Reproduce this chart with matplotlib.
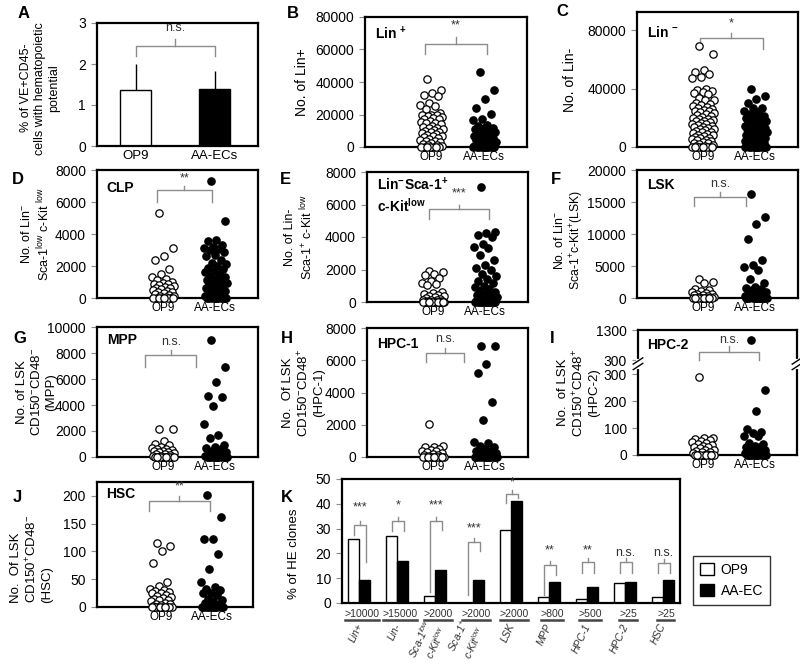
import numpy as np
import matplotlib
matplotlib.use('Agg')
import matplotlib.pyplot as plt
from matplotlib.patches import Patch

plt.rcParams['font.family'] = 'Liberation Sans'
plt.rcParams['mathtext.default'] = 'regular'

GRAY = '#8c8c8c'
DARK = '#333333'

groups = ['OP9', 'AA-ECs']

# A: % of VE+CD45- cells with hematopoietic potential
a_mean = [1.37, 1.39]
a_err = [0.63, 0.43]

# B: Lin+
b_op9 = [42000, 35000, 33500, 32000, 31500, 27000, 26000, 25000, 23500, 21000, 20000, 19500,
         19500, 19000, 18500, 18000, 17500, 17000, 16000, 15500, 15000, 14500, 14000, 13000,
         12500, 12000, 11500, 11000, 10500, 10000, 9500, 9000, 8500, 8000, 7500, 7000, 6500,
         6000, 5500, 5000, 4500, 4000, 3500, 3000, 2500, 2000, 1500, 1000, 500, 0, 0, 0, 0, 0, 0, 0]
b_aa = [46000, 35000, 29500, 24000, 20500, 17000, 16500, 13500, 13000, 12000, 11500, 11000,
        10500, 10000, 9500, 9000, 8500, 8000, 7500, 7000, 6500, 6000, 5500, 5000, 4500, 4000,
        3500, 3000, 2500, 2000, 1500, 1000, 800, 600, 400, 200, 0, 0, 0, 0, 0, 0, 0, 0]

# C: Lin-
c_op9 = [69000, 64000, 53000, 51500, 50000, 48000, 47000, 40000, 39000, 38500, 37500, 37000,
         36000, 33500, 32500, 32000, 30000, 29500, 29000, 28000, 27500, 27000, 26000, 25500,
         25000, 24500, 24000, 23000, 22500, 22000, 21000, 20500, 20000, 19500, 19000, 18500,
         18000, 17500, 17000, 16500, 16000, 15500, 15000, 14500, 14000, 13500, 13000, 12500,
         12000, 11500, 11000, 10500, 10000, 9500, 9000, 8500, 8000, 7500, 7000, 6500, 6000,
         5500, 5000, 4500, 4000, 3500, 3000, 2500, 2000, 1500, 1000, 500, 0, 0, 0, 0, 0, 0, 0, 0]
c_aa = [40000, 35000, 33000, 30000, 27000, 26500, 25000, 24000, 22500, 21500, 21000, 20000,
        19500, 19000, 18000, 17000, 16500, 16000, 15000, 14500, 14000, 13500, 13000, 12500,
        12000, 11500, 11000, 10500, 10000, 9500, 9000, 8500, 8000, 7500, 7000, 6500, 6000,
        5500, 5000, 4500, 4000, 3500, 3000, 2500, 2000, 1500, 1000, 500, 0, 0, 0, 0, 0, 0, 0, 0]

# D: CLP
d_op9 = [5300, 3100, 2600, 2400, 1800, 1500, 1300, 1200, 1100, 1000, 950, 900, 850, 800, 750,
         700, 650, 600, 550, 500, 450, 400, 350, 300, 250, 200, 150, 100, 50, 0, 0, 0, 0, 0, 0, 0, 0]
d_aa = [7300, 4800, 3650, 3550, 3300, 3200, 3150, 3050, 3000, 2900, 2700, 2600, 2400, 2200,
        2100, 2000, 1900, 1800, 1700, 1600, 1500, 1400, 1300, 1200, 1150, 1100, 1000, 950, 900,
        850, 800, 700, 650, 600, 500, 450, 400, 300, 250, 200, 150, 100, 50, 0, 0, 0, 0, 0, 0, 0, 0, 0]

# E: Lin-Sca-1+ c-Kit low
e_op9 = [1900, 1850, 1750, 1650, 1450, 1300, 1200, 1100, 1050, 600, 550, 500, 450, 400, 350,
         300, 250, 200, 150, 100, 100, 50, 50, 0, 0, 0, 0, 0, 0, 0, 0, 0, 0, 0, 0, 0]
e_aa = [7100, 4300, 4250, 4150, 4000, 3550, 3400, 3300, 2900, 2600, 2250, 2100, 2000, 1750,
        1600, 1400, 1300, 1200, 1000, 900, 800, 700, 600, 500, 450, 400, 350, 300, 250, 200,
        150, 100, 50, 0, 0, 0, 0, 0, 0, 0, 0, 0, 0]

# F: LSK
f_op9 = [2900, 2450, 2350, 1400, 1250, 1100, 900, 800, 700, 600, 500, 400, 300, 200, 100, 50,
         0, 0, 0, 0, 0, 0, 0, 0, 0, 0]
f_aa = [16200, 12700, 11600, 9200, 5900, 5100, 4800, 4300, 3000, 2400, 1700, 1500, 1400, 1200,
        1000, 800, 600, 500, 400, 300, 200, 150, 100, 50, 0, 0, 0, 0, 0, 0, 0, 0, 0, 0]

# G: MPP
g_op9 = [2150, 2150, 1200, 1000, 900, 800, 700, 650, 600, 550, 500, 450, 400, 350, 300, 250,
         200, 150, 100, 50, 0, 0, 0, 0, 0, 0, 0, 0, 0, 0]
g_aa = [9000, 6900, 5800, 4700, 4600, 3900, 2550, 1700, 1500, 900, 800, 700, 600, 500, 400,
        300, 250, 200, 150, 100, 50, 0, 0, 0, 0, 0, 0, 0, 0, 0]

# H: HPC-1
h_op9 = [2050, 700, 650, 600, 500, 450, 400, 350, 300, 250, 200, 150, 100, 50, 0, 0, 0, 0, 0,
         0, 0, 0, 0, 0]
h_aa = [6900, 6900, 5750, 5200, 3400, 2300, 900, 850, 700, 600, 500, 400, 350, 300, 250, 200,
        150, 100, 50, 0, 0, 0, 0, 0, 0, 0, 0, 0]

# I: HPC-2
i_op9 = [290, 65, 62, 58, 55, 52, 48, 45, 40, 38, 35, 30, 28, 25, 20, 18, 15, 12, 10, 8, 5,
         0, 0, 0, 0, 0, 0, 0, 0, 0, 0]
i_aa = [955, 240, 165, 95, 85, 80, 70, 70, 45, 40, 35, 30, 28, 25, 20, 18, 15, 12, 10, 8, 5,
        0, 0, 0, 0, 0, 0, 0, 0, 0, 0]

# J: HSC
j_op9 = [116, 110, 100, 80, 45, 38, 33, 30, 28, 27, 26, 25, 22, 20, 18, 16, 15, 13, 12, 10, 8,
         6, 5, 3, 2, 0, 0, 0, 0, 0, 0, 0, 0, 0]
j_aa = [202, 162, 122, 122, 95, 68, 45, 36, 33, 30, 25, 25, 22, 15, 12, 10, 8, 5, 3, 0, 0, 0,
        0, 0, 0, 0, 0, 0]

# K: % of HE clones
k_thresh = ['>10000', '>15000', '>2000', '>2000', '>2000', '>800', '>500', '>25', '>25']
k_cats = ['Lin+', 'Lin-', 'Sca-1$^{low}$\nc-Kit$^{low}$', 'Sca-1$^{+}$\nc-Kit$^{low}$',
          'LSK', 'MPP', 'HPC-1', 'HPC-2', 'HSC']
k_op9 = [25.8, 27.2, 2.8, 0, 29.5, 2.3, 1.6, 8.0, 2.3]
k_aa = [9.2, 17.0, 13.3, 9.2, 41.3, 8.4, 6.4, 8.4, 9.2]
k_sig = ['***', '*', '***', '***', '*', '**', '**', 'n.s.', 'n.s.']

fig = plt.figure(figsize=(8, 6.69), dpi=100)


def add_ax(l, t, r, b):
    return fig.add_axes([l / 800, 1 - b / 669, (r - l) / 800, (b - t) / 669])


def frame(ax):
    for s in ax.spines.values():
        s.set_linewidth(1.6)
        s.set_color('black')
    ax.tick_params(axis='y', length=4, width=0.8, color=GRAY, labelsize=10, pad=4)
    ax.tick_params(axis='x', length=0, labelsize=8.5, pad=3)


def bracket(ax, x0, x1, y, yl, yr, ytop, txt, ty, fs=9):
    ax.plot([x0, x0, x1, x1], [yl, y, y, yr], color=GRAY, lw=1, clip_on=False)
    xm = (x0 + x1) / 2
    ax.plot([xm, xm], [y, ytop], color=GRAY, lw=1, clip_on=False)
    ax.text(xm, ty, txt, ha='center', va='center', fontsize=fs, color=DARK)


def jitter(n, w):
    k = np.arange(n)
    return (((k + 0.5) * 0.618034) % 1.0 - 0.5) * 2 * w


def dots(ax, op9, aa, ylim, yticks, ylabel, lx, inner, iy, sig, lfs=9.5):
    for pos, vals, fc in [(1, op9, 'white'), (2, aa, 'black')]:
        v = np.sort(np.asarray(vals, float))[::-1]
        ax.scatter(pos + jitter(len(v), 0.22), v, s=28, facecolor=fc, edgecolor='black',
                   linewidth=0.9, zorder=3, clip_on=False)
    ax.set_xlim(-0.26, 2.815)
    ax.set_ylim(*ylim)
    ax.set_yticks(yticks)
    ax.set_xticks([1, 2])
    ax.set_xticklabels(groups)
    frame(ax)
    ax.set_ylabel(ylabel, fontsize=lfs)
    ax.yaxis.set_label_coords(lx, 0.5)
    ax.text(0.06, iy, inner, transform=ax.transAxes, fontsize=10, fontweight='bold',
            ha='left', va='center')
    bracket(ax, *sig)


# ---- A
ax = add_ax(97, 23, 258, 146)
ax.bar([0, 1], a_mean, width=0.4, color=['white', 'black'], edgecolor='black', lw=1, zorder=2)
ax.errorbar([0, 1], a_mean, yerr=[[0, 0], a_err], fmt='none', ecolor='black', elinewidth=1,
            capsize=0, zorder=1)
ax.set_xlim(-0.49, 1.55)
ax.set_ylim(0, 3)
ax.set_yticks([0, 1, 2, 3])
ax.set_xticks([0, 1])
ax.set_xticklabels(groups)
frame(ax)
ax.tick_params(axis='x', labelsize=9.5)
ax.set_ylabel('% of VE+CD45-\ncells with hematopoietic\npotential', fontsize=9)
ax.yaxis.set_label_coords(-0.23, 0.47)
bracket(ax, 0, 1, 2.43, 2.2, 2.2, 2.6, 'n.s.', 2.88)

# ---- B
ax = add_ax(365, 17, 527, 147)
dots(ax, b_op9, b_aa, (0, 80000), range(0, 80001, 20000), 'No. of Lin+', -0.345,
     'Lin $^{+}$', 0.87, (0.87, 2.05, 63600, 57000, 57000, 67400, '**', 74700), lfs=10)

# ---- C
ax = add_ax(637, 12, 798, 147)
dots(ax, c_op9, c_aa, (0, 92500), [0, 40000, 80000], 'No. of Lin-', -0.37,
     'Lin $^{-}$', 0.845, (0.94, 2.14, 74700, 67400, 67400, 78000, '*', 84500), lfs=10)

# ---- D
ax = add_ax(97, 170, 258, 298)
dots(ax, d_op9, d_aa, (0, 8000), range(0, 8001, 2000),
     'No. of Lin$^{-}$\nSca-1$^{low}$ c-Kit $^{low}$', -0.28,
     'CLP', 0.86, (0.89, 1.93, 6740, 6000, 6000, 7000, '**', 7470), lfs=9)

# ---- E
ax = add_ax(367, 172, 528, 302)
dots(ax, e_op9, e_aa, (0, 8000), range(0, 8001, 2000),
     'No. of Lin-\nSca-1$^{+}$ c-Kit $^{low}$', -0.32,
     'Lin$^{-}$Sca-1$^{+}$\nc-Kit$^{low}$', 0.82,
     (0.93, 2.07, 5700, 5100, 5100, 6000, '***', 6660), lfs=9)

# ---- F
ax = add_ax(637, 170, 798, 298)
dots(ax, f_op9, f_aa, (0, 20000), range(0, 20001, 5000),
     'No. of Lin$^{-}$\nSca-1$^{+}$c-Kit$^{+}$(LSK)', -0.315,
     'LSK', 0.88, (0.82, 1.83, 15840, 14370, 14370, 16580, 'n.s.', 17800), lfs=8.8)
ax.yaxis.set_label_coords(-0.315, 0.45)

# ---- G
ax = add_ax(97, 327, 258, 457)
dots(ax, g_op9, g_aa, (0, 10000), range(0, 10001, 2000),
     'No. of LSK\nCD150$^{-}$CD48$^{-}$\n(MPP)', -0.25,
     'MPP', 0.9, (0.66, 1.64, 7825, 6950, 6950, 8200, 'n.s.', 8875))

# ---- H
ax = add_ax(367, 328, 528, 457)
dots(ax, h_op9, h_aa, (0, 8000), range(0, 8001, 2000),
     'No.  Of LSK\nCD150$^{-}$CD48$^{+}$\n(HPC-1)', -0.26,
     'HPC-1', 0.876, (0.86, 1.59, 6450, 5880, 5880, 6760, 'n.s.', 7320))


# ---- I (broken axis)
def brk_fwd(y):
    y = np.asarray(y, float)
    return np.where(y <= 300, y, 352.5 + (y - 300) * 0.1125)


def brk_inv(t):
    t = np.asarray(t, float)
    return np.where(t <= 300, t, np.where(t < 352.5, 300, 300 + (t - 352.5) / 0.1125))


ax = add_ax(638, 330, 797, 455)
ax.set_yscale('function', functions=(brk_fwd, brk_inv))
dots(ax, i_op9, i_aa, (0, 1300), [0, 100, 200, 300, 300.001, 1300],
     'No.  of LSK\nCD150$^{+}$CD48$^{+}$\n(HPC-2)', -0.24,
     'HPC-2', 0.88, (0.92, 2.08, 571, 310, 310, 757, 'n.s.', 971))
ax.set_yticklabels(['0', '100', '200', '300', '300', '1300'])
yb = 0.73
for xs in (0, 1):
    ax.plot([xs, xs], [yb - 0.025, yb + 0.025], color='white', lw=3, transform=ax.transAxes,
            clip_on=False, zorder=4)
    for off in (-0.022, 0.022):
        ax.plot([xs - 0.03, xs + 0.03], [yb + off - 0.025, yb + off + 0.025], color='black',
                lw=1, transform=ax.transAxes, clip_on=False, zorder=5)

# ---- J (label lines start at the bottom)
ax = add_ax(97, 482, 253, 607)
dots(ax, j_op9, j_aa, (0, 225), range(0, 201, 50),
     'No.  Of LSK\nCD150$^{+}$CD48$^{-}$\n(HSC)', -0.28,
     'HSC', 0.9, (0.76, 1.96, 191, 172, 172, 199, '**', 217))
ax.yaxis.label.set_ha('left')
ax.yaxis.label.set_multialignment('left')
ax.yaxis.set_label_coords(-0.28, 0.03)

# ---- K
ax = add_ax(342, 479, 680, 603)
xk = np.arange(len(k_cats))
ax.bar(xk - 0.15, k_op9, width=0.3, color='white', edgecolor='black', lw=1, zorder=2)
ax.bar(xk + 0.15, k_aa, width=0.3, color='black', edgecolor='black', lw=1, zorder=2)
ax.set_xlim(-0.45, 8.45)
ax.set_ylim(0, 50)
ax.set_yticks(range(0, 51, 10))
ax.set_xticks([])
frame(ax)
ax.set_ylabel('% of HE clones', fontsize=9.5)
ax.yaxis.set_label_coords(-0.125, 0.4)

k_brk = [(31.5, 27.5, 16.5, 38.6), (32.9, 29.2, 29.2, 39.2), (33.2, 4.5, 29.6, 39.2),
         (24.5, 3.2, 21.0, 29.9), (43.9, 40.5, 42.5, 48.5), (15.2, 3.2, 11.2, 21.2),
         (16.5, 12.1, 12.1, 21.2), (16.5, 12.1, 12.1, 20.1), (16.0, 12.1, 12.1, 20.1)]
for i, (yh, yl, yr, ty) in enumerate(k_brk):
    bracket(ax, xk[i] - 0.14, xk[i] + 0.18, yh, yl, yr, yh + 1.6, k_sig[i], ty, fs=9)

tr = ax.get_xaxis_transform()
for i in range(len(k_cats)):
    ax.text(xk[i] + 0.08, -0.085, k_thresh[i], transform=tr, ha='center', va='center',
            fontsize=7.6, color=DARK)
    hw = 0.075 * len(k_thresh[i])
    ax.plot([xk[i] + 0.08 - hw, xk[i] + 0.08 + hw], [-0.14, -0.14], color='#444444', lw=1.8,
            transform=tr, clip_on=False)
    ax.text(xk[i] + 0.02, -0.17, k_cats[i], transform=tr, rotation=65, rotation_mode='anchor',
            ha='right', va='center', fontsize=7.5, style='italic', color=DARK)

fig.legend(handles=[Patch(facecolor='white', edgecolor='black'),
                    Patch(facecolor='black', edgecolor='black')],
           labels=['OP9', 'AA-EC'], loc='upper left',
           bbox_to_anchor=(693 / 800, 1 - 556 / 669), fontsize=10, frameon=True,
           fancybox=False, edgecolor='black', handlelength=1.0, handleheight=1.0,
           borderpad=0.5, labelspacing=0.5, handletextpad=0.5, borderaxespad=0)

# panel letters
for lab, x, y in [('A', 18, 13), ('B', 287, 13), ('C', 556, 12), ('D', 12, 180),
                  ('E', 280, 180), ('F', 551, 180), ('G', 13, 338), ('H', 281, 338),
                  ('I', 550, 338), ('J', 13, 497), ('K', 281, 497)]:
    fig.text(x / 800, 1 - y / 669, lab, fontsize=12, fontweight='bold', ha='left', va='center')

fig.savefig('out.png', dpi=100)
